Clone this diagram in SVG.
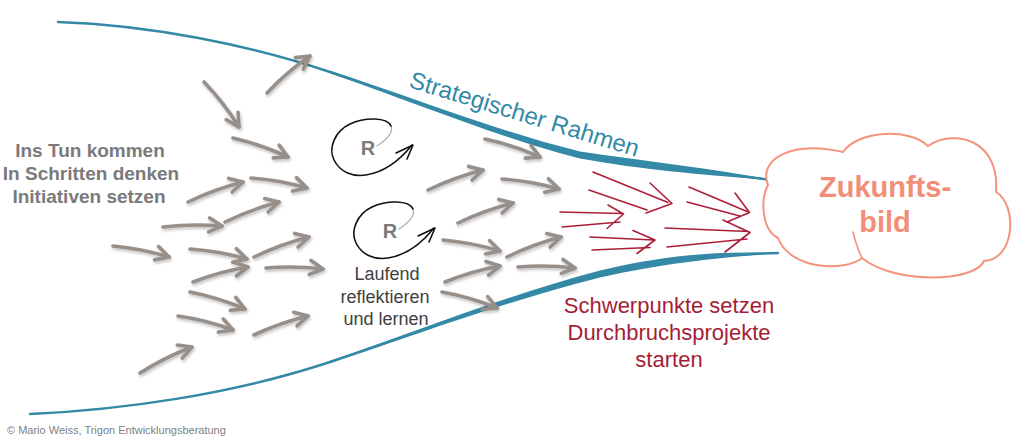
<svg xmlns="http://www.w3.org/2000/svg" width="1024" height="441" viewBox="0 0 1024 441">
<style>
text{font-family:"Liberation Sans",Arial,sans-serif}
.lt{font-size:19px;font-weight:bold;fill:#7a7a7a;text-anchor:middle}
.ll{font-size:18px;fill:#404040;text-anchor:middle}
.lr{font-size:22px;fill:#a51d34;text-anchor:middle}
.lz{font-size:29px;font-weight:bold;fill:#f28d77;text-anchor:middle}
.rr{font-size:20px;font-weight:bold;fill:#7a7a7a;text-anchor:middle}
.blue{fill:none;stroke:#3389a6;stroke-width:2.4;stroke-linecap:round}
.bluef{fill:#3389a6}
.ga{fill:none;stroke:#978f8a;stroke-width:3.6;stroke-linecap:round;marker-end:url(#gh)}
.ra{fill:none;stroke:#ad1f38;stroke-width:1.6;stroke-linecap:round;stroke-linejoin:round}
.loop{fill:none;stroke:#111;stroke-width:1.6;stroke-linecap:round;stroke-linejoin:round}
</style>
<defs>
<marker id="gh" markerWidth="22" markerHeight="22" refX="17" refY="11" orient="auto" markerUnits="userSpaceOnUse">
<path d="M4,4 L17,11 L4,18" fill="none" stroke="#978f8a" stroke-width="3.6" stroke-linecap="round" stroke-linejoin="round"/>
</marker>
<filter id="sh" x="-20%" y="-20%" width="140%" height="140%">
<feDropShadow dx="1" dy="2" stdDeviation="1.5" flood-color="#000" flood-opacity="0.25"/>
</filter>
</defs>
<rect width="1024" height="441" fill="#fff"/>

<g id="frame-upper">
<path class="blue" d="M58,22 C150,25 250,45 330,72 C420,102 500,135 580,155 C650,166 700,170 778,181"/>
<path class="bluef" d="M330,70.8 C420,100 500,132 580,151.5 C650,162 700,166.5 779,181 C700,174 650,171 580,158.5 C500,138 420,104.5 330,73.2 Z"/>
<text x="0" y="0" transform="translate(408,87) rotate(17)" style="font-size:24px;fill:#3389a6">Strategischer Rahmen</text>
</g>

<g id="frame-lower">
<path class="blue" d="M30,414 C120,410 230,395 330,362 C420,332 500,300 600,274 C670,258 720,255 778,253"/>
<path class="bluef" d="M330,360.8 C420,330.5 500,297 600,270.5 C670,254 720,251 779,253 C720,258 670,262 600,277.5 C500,303 420,333.5 330,363.2 Z"/>
</g>

<g id="start-text">
<text class="lt" x="90" y="157">Ins Tun kommen</text>
<text class="lt" x="91" y="180">In Schritten denken</text>
<text class="lt" x="89" y="203">Initiativen setzen</text>
</g>

<g id="loop-1">
<path d="M377,146 C386,140 394,133 391,126" fill="none" stroke="#aaa" stroke-width="1.2" stroke-linecap="round"/>
<path class="loop" d="M391,126 C387,117 365,117 350,124 C335,131 328,148 334,160 C340,172 352,177 366,175 C385,172 400,160 412,145"/>
<path class="loop" d="M396,153 L413,145 L407,159"/>
<text class="rr" x="368" y="155">R</text>
</g>

<g id="loop-2" transform="translate(22,83)">
<path d="M377,146 C386,140 394,133 391,126" fill="none" stroke="#aaa" stroke-width="1.2" stroke-linecap="round"/>
<path class="loop" d="M391,126 C387,117 365,117 350,124 C335,131 328,148 334,160 C340,172 352,177 366,175 C385,172 400,160 412,145"/>
<path class="loop" d="M396,153 L413,145 L407,159"/>
<text class="rr" x="368" y="155">R</text>
</g>

<g id="reflect-text">
<text class="ll" x="387" y="280">Laufend</text>
<text class="ll" x="385" y="303">reflektieren</text>
<text class="ll" x="386" y="325">und lernen</text>
</g>

<g id="connectors" filter="url(#sh)">
<path class="ga" d="M267,93 Q286.5,72.2 310,56"/>
<path class="ga" d="M204,82 Q223.9,102.7 239,127"/>
<path class="ga" d="M233,138 Q261.5,144.7 288,157"/>
<path class="ga" d="M251,178 Q279.5,180 307,188"/>
<path class="ga" d="M188,202 Q214.5,189.2 243,182"/>
<path class="ga" d="M225,222 Q251,209.2 279,202"/>
<path class="ga" d="M163,227 Q192.5,223.5 222,226"/>
<path class="ga" d="M113,246 Q141.6,248.6 169,257"/>
<path class="ga" d="M190,249 Q219,251 247,259"/>
<path class="ga" d="M254,257 Q280.5,244.2 309,237"/>
<path class="ga" d="M193,282 Q219.7,271.6 248,267"/>
<path class="ga" d="M266,268 Q294.5,265.5 323,269"/>
<path class="ga" d="M190,292 Q218.4,297.6 245,309"/>
<path class="ga" d="M178,316 Q206.2,320.1 233,330"/>
<path class="ga" d="M254,335 Q280,322.7 308,316"/>
<path class="ga" d="M140,373 Q164.7,357.3 192,347"/>
<path class="ga" d="M485,139 Q513.4,145.1 540,157"/>
<path class="ga" d="M428,190 Q454.5,177.2 483,170"/>
<path class="ga" d="M502,179 Q531,181 559,189"/>
<path class="ga" d="M458,223 Q484.5,210.2 513,203"/>
<path class="ga" d="M443,240 Q472,242.6 500,251"/>
<path class="ga" d="M507,257 Q533,244.2 561,237"/>
<path class="ga" d="M445,282 Q471.7,271.1 500,266"/>
<path class="ga" d="M518,267 Q546.5,264.5 575,268"/>
<path class="ga" d="M442,292 Q470.4,297.1 497,308"/>
</g>

<g id="focus-arrows">
<path class="ra" d="M593,172 L668,202.5 M589,190 L647,210 M650,183 L672,203.5 L646,213"/>
<path class="ra" d="M689,187 L747,211.5 M687,202 L740,216 M735,193 L749.5,212.5 L727,222"/>
<path class="ra" d="M560,212 L622,213.5 M562,227 L620,222 M608,205 L623.5,214 L607,228.5"/>
<path class="ra" d="M590,237 L653.5,240 M592,250 L650,247.5 M633,230.5 L655,240 L637,253.5"/>
<path class="ra" d="M665,228 L748.5,231.5 M667,247 L747,239 M723,220 L750,232.5 L725,252"/>
</g>

<g id="focus-text">
<text class="lr" x="669" y="313">Schwerpunkte setzen</text>
<text class="lr" x="669" y="340">Durchbruchsprojekte</text>
<text class="lr" x="669" y="367">starten</text>
</g>

<g id="cloud">
<path d="M778,238 C762,230 760,200 768,185 C758,160 790,140 843,152 C858,130 910,128 928,146 C955,128 1000,140 996,192 C1018,205 1015,260 984,261 C975,282 895,285 862,258 C845,272 790,270 778,238 Z" fill="#fff" stroke="#f4937c" stroke-width="2"/>
<path d="M862,258 C858,250 855,240 853,232" fill="none" stroke="#f4937c" stroke-width="1.6" stroke-linecap="round"/>
<text class="lz" x="885" y="197">Zukunfts-</text>
<text class="lz" x="885" y="232">bild</text>
</g>

<g id="copyright">
<text x="7" y="434" style="font-size:11px;fill:#7f7f7f">© Mario Weiss, Trigon Entwicklungsberatung</text>
</g>
</svg>
